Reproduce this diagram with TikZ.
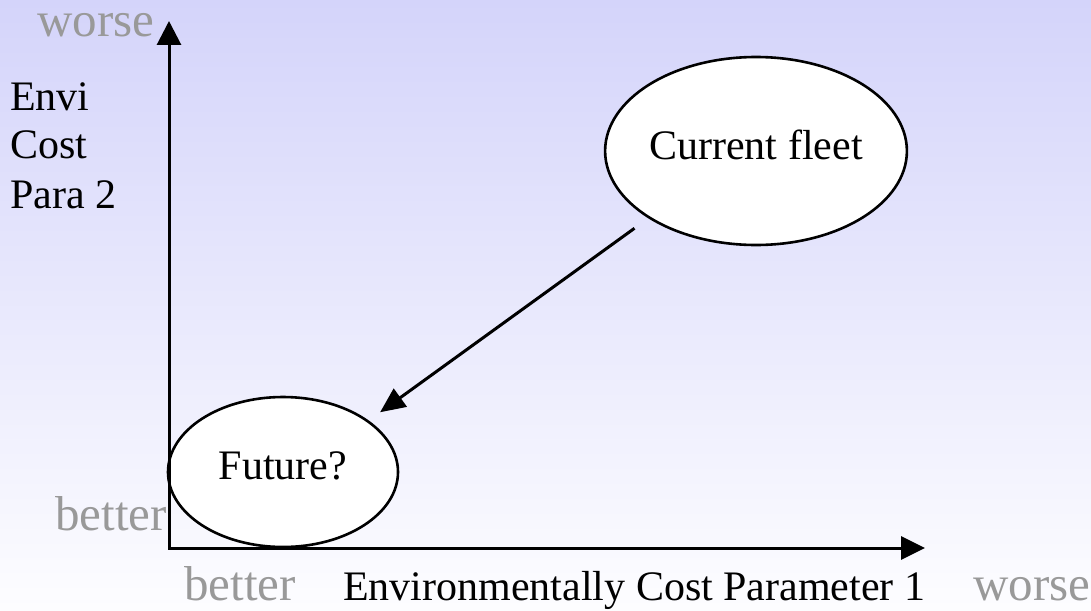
\documentclass[tikz,border=0pt]{standalone}
\usepackage{fontspec}
\setmainfont{Liberation Serif}
\usetikzlibrary{arrows.meta,shapes.geometric}
\definecolor{bgtop}{RGB}{212,212,250}
\definecolor{bgbot}{RGB}{253,253,255}
\definecolor{graytxt}{RGB}{153,153,153}
\tikzset{
  blacktxt/.style={font=\fontsize{42}{48}\selectfont, text=black, inner sep=0pt, anchor=base west},
  graylbl/.style={font=\fontsize{49}{55}\selectfont, text=graytxt, inner sep=0pt, anchor=base west},
  blob/.style={ellipse, draw=black, line width=2.6pt, fill=white, inner sep=0pt,
    font=\fontsize{42}{48}\selectfont, text depth=13pt},
  axis/.style={line width=3pt, line join=miter,
    {Triangle[length=24pt,width=24pt]}-{Triangle[length=24pt,width=23pt]}},
  move/.style={line width=3pt, -{Triangle[length=25pt,width=22pt]}}
}
\begin{document}
\begin{tikzpicture}[x=1pt,y=-1pt]
  \shade[top color=bgtop, bottom color=bgbot] (0,0) rectangle (1091,610);
  \useasboundingbox (0,0) rectangle (1091,610);

  % ellipses
  \node[blob, minimum width=266pt, minimum height=188pt] (cur) at (756,151) {Current fleet};
  \node[blob, minimum width=230pt, minimum height=150pt] (fut) at (283,472) {Future?};

  % axes
  \coordinate (O) at (169,548);
  \coordinate (ytip) at (169,21);
  \coordinate (xtip) at (925,548);
  \draw[axis] (ytip) -- (O) -- (xtip);

  % transition arrow
  \draw[move, shorten <=17pt, shorten >=14pt] (cur.212.5) -- (fut.31.8);

  % labels
  \node[graylbl] (yworse) at (37,37) {worse};
  \node[graylbl] (ybetter) at (55,530) {better};
  \node[graylbl] (xbetter) at (184,600) {better};
  \node[graylbl] (xworse) at (973,600) {worse};
  \node[blacktxt] (ylab1) at (10,110) {Envi};
  \node[blacktxt] (ylab2) at (10,158) {Cost};
  \node[blacktxt] (ylab3) at (10,208) {Para 2};
  \node[blacktxt] (xlab) at (343,600) {Environmentally Cost Parameter 1};
\end{tikzpicture}
\end{document}
